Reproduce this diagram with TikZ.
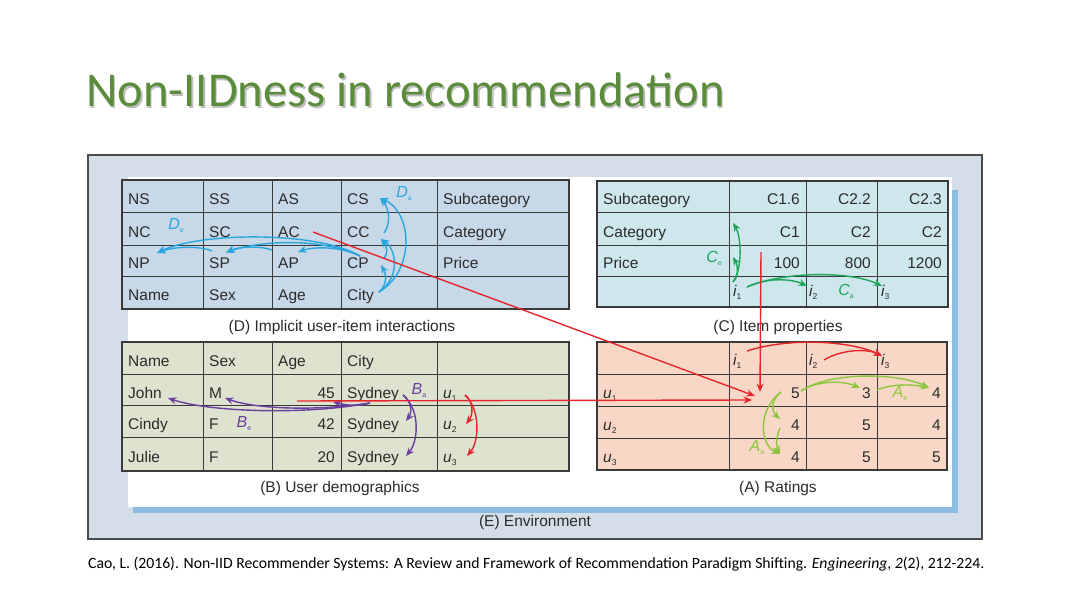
\documentclass[tikz,border=0pt]{standalone}
\usepackage{fontspec}
\setmainfont{Liberation Sans}
\newfontfamily\carlito{Carlito}
\usetikzlibrary{arrows.meta}
\definecolor{titlegreen}{HTML}{5B8C3B}
\definecolor{efill}{HTML}{D3DEE9}
\definecolor{dfill}{HTML}{C7D8E8}
\definecolor{cfill}{HTML}{CDE7EC}
\definecolor{bfill}{HTML}{DEE3CF}
\definecolor{afill}{HTML}{F8D7C6}
\definecolor{shblue}{HTML}{8DBCE3}
\definecolor{txt}{HTML}{2B2B2B}
\definecolor{gridc}{HTML}{3A3A3A}
\definecolor{ablue}{HTML}{2AA6DF}
\definecolor{agreen}{HTML}{1FA55B}
\definecolor{lgreen}{HTML}{8CC63F}
\definecolor{apurple}{HTML}{6A3FA0}
\definecolor{ared}{HTML}{E5262B}
\newcommand\sublab[2]{{\itshape #1}\raisebox{-3pt}{\fontsize{7}{7}\selectfont\upshape #2}}
\newcommand\idx[2]{{\itshape #1}\raisebox{-3.5pt}{\fontsize{8.5}{8.5}\selectfont\upshape #2}}
\tikzset{
  cellw/.style={anchor=west, inner sep=0pt, yshift=-2.5pt, text height=11pt, text depth=0pt, text=txt, font=\fontsize{15.5}{16}\selectfont},
  celle/.style={anchor=east, inner sep=0pt, yshift=-2.5pt, text height=11pt, text depth=0pt, text=txt, font=\fontsize{15.5}{16}\selectfont},
  capt/.style={inner sep=0pt, text=txt, font=\fontsize{15.5}{16}\selectfont},
  gridline/.style={draw=gridc, line width=1pt},
  border/.style={draw=gridc, line width=2pt},
  arr/.style={line width=1.4pt, -{Stealth[length=8.5pt,width=7pt]}},
  bluearr/.style={arr, draw=ablue},
  redarr/.style={arr, draw=ared},
  purparr/.style={arr, draw=apurple},
  grnarr/.style={arr, draw=agreen},
  lgrnarr/.style={arr, draw=lgreen},
  lab/.style={inner sep=0pt, font=\fontsize{16}{16}\selectfont},
}
\begin{document}
\begin{tikzpicture}[x=1pt,y=-1pt]
\useasboundingbox (0,0) rectangle (1080,607);
\fill[white] (0,0) rectangle (1080,607);
% title
\node[anchor=base west, inner sep=0pt, text=black!25, font=\carlito\fontsize{48.6}{49}\selectfont] at (87.5,108.5) {Non-IIDness in recommendation};
\node[anchor=base west, inner sep=0pt, text=titlegreen, font=\carlito\fontsize{48.6}{49}\selectfont] (title) at (86,107) {Non-IIDness in recommendation};
% environment frame
\draw[fill=efill, draw=black!70, line width=1.2pt] (88,155) rectangle (982,539);
\fill[shblue] (133,190) rectangle (958,513);
\fill[white] (128,177) rectangle (952,507);
\node[capt] (E) at (535,522) {(E) Environment};

% ---------- Table D ----------
\fill[dfill] (122,180) rectangle (569,309);
\foreach \x in {203,272,341,437} \draw[gridline] (\x,180) -- (\x,309);
\foreach \y in {213,245,276} \draw[gridline] (122,\y) -- (569,\y);
\draw[border] (122,180) rectangle (569,309);
\node[cellw] (dNS) at (128,196.5) {NS};
\node[cellw] (dSS) at (209,196.5) {SS};
\node[cellw] (dAS) at (278,196.5) {AS};
\node[cellw] (dCS) at (347,196.5) {CS};
\node[cellw] (dSub) at (443,196.5) {Subcategory};
\node[cellw] (dNC) at (128,229) {NC};
\node[cellw] (dSC) at (209,229) {SC};
\node[cellw] (dAC) at (278,229) {AC};
\node[cellw] (dCC) at (347,229) {CC};
\node[cellw] (dCat) at (443,229) {Category};
\node[cellw] (dNP) at (128,260.5) {NP};
\node[cellw] (dSP) at (209,260.5) {SP};
\node[cellw] (dAP) at (278,260.5) {AP};
\node[cellw] (dCP) at (347,260.5) {CP};
\node[cellw] (dPrice) at (443,260.5) {Price};
\node[cellw] (dName) at (128,292.5) {Name};
\node[cellw] (dSex) at (209,292.5) {Sex};
\node[cellw] (dAge) at (278,292.5) {Age};
\node[cellw] (dCity) at (347,292.5) {City};
\node[capt] (capD) at (342,327) {(D) Implicit user-item interactions};

% ---------- Table C ----------
\fill[cfill] (597,181) rectangle (948,307);
\foreach \x in {729,806,877} \draw[gridline] (\x,181) -- (\x,307);
\foreach \y in {213,245,276} \draw[gridline] (597,\y) -- (948,\y);
\draw[border] (597,181) rectangle (948,307);
\node[cellw] (cSub) at (603,197) {Subcategory};
\node[celle] (cS1) at (800,197) {C1.6};
\node[celle] (cS2) at (871,197) {C2.2};
\node[celle] (cS3) at (942,197) {C2.3};
\node[cellw] (cCat) at (603,229) {Category};
\node[celle] (cC1) at (800,229) {C1};
\node[celle] (cC2) at (871,229) {C2};
\node[celle] (cC3) at (942,229) {C2};
\node[cellw] (cPrice) at (603,260.5) {Price};
\node[celle] (cP1) at (800,260.5) {100};
\node[celle] (cP2) at (871,260.5) {800};
\node[celle] (cP3) at (942,260.5) {1200};
\node[cellw] (ci1) at (733,288) {\idx{i}{1}};
\node[cellw] (ci2) at (809,288) {\idx{i}{2}};
\node[cellw] (ci3) at (881,288) {\idx{i}{3}};
\node[capt] (capC) at (778,327) {(C) Item properties};

% ---------- Table B ----------
\fill[bfill] (122,342) rectangle (569,471);
\foreach \x in {203,272,341,437} \draw[gridline] (\x,342) -- (\x,471);
\foreach \y in {374,405,437} \draw[gridline] (122,\y) -- (569,\y);
\draw[border] (122,342) rectangle (569,471);
\node[cellw] (bName) at (128,358) {Name};
\node[cellw] (bSex) at (209,358) {Sex};
\node[cellw] (bAge) at (278,358) {Age};
\node[cellw] (bCity) at (347,358) {City};
\node[cellw] (bJohn) at (128,390) {John};
\node[cellw] (bM) at (209,390) {M};
\node[celle] (b45) at (335,390) {45};
\node[cellw] (bSyd1) at (347,390) {Sydney};
\node[cellw] (bu1) at (443,390) {\idx{u}{1}};
\node[cellw] (bCindy) at (128,421) {Cindy};
\node[cellw] (bF1) at (209,421) {F};
\node[celle] (b42) at (335,421) {42};
\node[cellw] (bSyd2) at (347,421) {Sydney};
\node[cellw] (bu2) at (443,421) {\idx{u}{2}};
\node[cellw] (bJulie) at (128,454) {Julie};
\node[cellw] (bF2) at (209,454) {F};
\node[celle] (b20) at (335,454) {20};
\node[cellw] (bSyd3) at (347,454) {Sydney};
\node[cellw] (bu3) at (443,454) {\idx{u}{3}};
\node[capt] (capB) at (340,488) {(B) User demographics};

% ---------- Table A ----------
\fill[afill] (597,342) rectangle (947,470);
\foreach \x in {729,806,877} \draw[gridline] (\x,342) -- (\x,470);
\foreach \y in {374,406,438} \draw[gridline] (597,\y) -- (947,\y);
\draw[border] (597,342) rectangle (947,470);
\node[cellw] (ai1) at (733,357) {\idx{i}{1}};
\node[cellw] (ai2) at (809,357) {\idx{i}{2}};
\node[cellw] (ai3) at (881,357) {\idx{i}{3}};
\node[cellw] (au1) at (603,390) {\idx{u}{1}};
\node[cellw] (au2) at (603,422) {\idx{u}{2}};
\node[cellw] (au3) at (603,454) {\idx{u}{3}};
\node[celle] (a11) at (800,390) {5};
\node[celle] (a12) at (871,390) {3};
\node[celle] (a13) at (941,390) {4};
\node[celle] (a21) at (800,422) {4};
\node[celle] (a22) at (871,422) {5};
\node[celle] (a23) at (941,422) {4};
\node[celle] (a31) at (800,454) {4};
\node[celle] (a32) at (871,454) {5};
\node[celle] (a33) at (941,454) {5};
\node[capt] (capA) at (778,488) {(A) Ratings};

% ---------- D arrows (blue) ----------
\coordinate (dCityR) at (379,292);
\coordinate (dCPT) at (381,265);
\coordinate (dCCT) at (381,239);
\coordinate (dCST) at (380,198);
\coordinate (dCPU) at (384,258);
\coordinate (dCCU) at (384,233);
\draw[bluearr] (dCityR) .. controls (388,284) and (386,274) .. (dCPT);
\draw[bluearr] (dCityR) .. controls (400,278) and (397,250) .. (dCCT);
\draw[bluearr] (dCityR) .. controls (416,270) and (412,212) .. (dCST);
\draw[bluearr] (dCPU) .. controls (389,252) and (386,246) .. (dCCT);
\draw[bluearr] (dCCU) .. controls (392,222) and (388,207) .. (dCST);
\node[lab, text=ablue] (Da) at (404,194) {\sublab{D}{a}};
\coordinate (dCPL) at (360,256);
\coordinate (dAPT) at (298,252);
\coordinate (dSPT) at (226,252.5);
\coordinate (dNPT) at (157,253);
\coordinate (dAPL) at (272,250);
\coordinate (dSPL) at (212,251);
\draw[bluearr] (dCPL) .. controls (342,247) and (316,246) .. (dAPT);
\draw[bluearr] (dCPL) .. controls (322,238) and (262,240) .. (dSPT);
\draw[bluearr] (dCPL) .. controls (318,231) and (200,232) .. (dNPT);
\draw[bluearr] (dAPL) .. controls (262,246) and (240,246) .. (dSPT);
\draw[bluearr] (dSPL) .. controls (200,246) and (176,246) .. (dNPT);
\node[lab, text=ablue] (De) at (176,226) {\sublab{D}{e}};

% ---------- C arrows (green) ----------
\coordinate (ci1T) at (733,282);
\coordinate (cPT) at (733,257);
\coordinate (cCT) at (733,223);
\draw[grnarr] (ci1T) .. controls (739,276) and (738,266) .. (cPT);
\draw[grnarr] (ci1T) .. controls (743,268) and (741,236) .. (cCT);
\node[lab, text=agreen] (Ce) at (714,258) {\sublab{C}{e}};
\coordinate (ci1R) at (747,287);
\coordinate (ci2T) at (807,286);
\coordinate (ci3T) at (882,286);
\draw[grnarr] (ci1R) .. controls (765,278) and (790,278) .. (ci2T);
\draw[grnarr] (ci1R) .. controls (785,271) and (850,271) .. (ci3T);
\node[lab, text=agreen] (Ca) at (846,291) {\sublab{C}{a}};

% ---------- A arrows (light green) ----------
\coordinate (a11L) at (781,392);
\coordinate (a21T) at (780,419);
\coordinate (a31T) at (780,454);
\coordinate (a21U) at (780,428);
\draw[lgrnarr] (a11L) .. controls (771,400) and (771,411) .. (a21T);
\draw[lgrnarr] (a11L) .. controls (757,410) and (760,445) .. (a31T);
\draw[lgrnarr] (a21U) .. controls (776,437) and (776,446) .. (a31T);
\node[lab, text=lgreen] (Aa) at (757,448) {\sublab{A}{a}};
\coordinate (a11R) at (801,391);
\coordinate (a12T) at (860,388);
\coordinate (a13T) at (929,388);
\coordinate (a12R) at (877,390);
\draw[lgrnarr] (a11R) .. controls (815,381) and (842,380) .. (a12T);
\draw[lgrnarr] (a11R) .. controls (830,371) and (900,373) .. (a13T);
\draw[lgrnarr] (a12R) .. controls (890,384) and (912,384) .. (a13T);
\node[lab, text=lgreen] (Ae) at (900,394) {\sublab{A}{e}};

% ---------- B arrows (purple) ----------
\coordinate (bSydL) at (370,403);
\coordinate (bJohnT) at (168,398);
\coordinate (bMT) at (225,398);
\coordinate (b45T) at (333,402);
\draw[purparr] (bSydL) .. controls (300,416) and (205,411) .. (bJohnT);
\draw[purparr] (bSydL) .. controls (310,412) and (252,408) .. (bMT);
\draw[purparr] (bSydL) .. controls (356,407) and (346,405) .. (b45T);
\node[lab, text=apurple] (Be) at (244,424) {\sublab{B}{e}};
\coordinate (bSydR) at (403,395);
\coordinate (bSyd2T) at (406,421);
\coordinate (bSyd3T) at (406,456);
\draw[purparr] (bSydR) .. controls (412,402) and (412,413) .. (bSyd2T);
\draw[purparr] (bSydR) .. controls (421,410) and (418,442) .. (bSyd3T);
\node[lab, text=apurple] (Ba) at (419,391) {\sublab{B}{a}};

% ---------- red connectors ----------
\coordinate (dACR) at (313,232);
\coordinate (aT1) at (755,396);
\coordinate (bJohnR) at (297,401);
\coordinate (aT2) at (752,400);
\coordinate (cPriceB) at (761,252);
\coordinate (aT3) at (760,392);
\draw[redarr] (dACR) -- (aT1);
\draw[redarr] (bJohnR) -- (aT2);
\draw[redarr] (cPriceB) -- (aT3);
\coordinate (ai1R) at (747,351);
\coordinate (ai2R) at (824,360);
\coordinate (ai3T) at (882,356);
\draw[redarr] (ai1R) .. controls (790,337) and (852,341) .. (ai3T);
\draw[redarr] (ai2R) .. controls (840,350) and (866,348) .. (ai3T);
\coordinate (bu1R) at (465,395);
\coordinate (bu2T) at (466,424);
\coordinate (bu3T) at (467,456);
\draw[redarr] (bu1R) .. controls (474,402) and (473,415) .. (bu2T);
\draw[redarr] (bu1R) .. controls (481,410) and (479,442) .. (bu3T);

% citation
\node[anchor=base west, inner sep=0pt, text=black, font=\carlito\fontsize{15.7}{16}\selectfont] (cite) at (88,568) {Cao, L. (2016). Non-IID Recommender Systems: A Review and Framework of Recommendation Paradigm Shifting. \textit{Engineering}, \textit{2}(2), 212-224.};
\end{tikzpicture}
\end{document}
